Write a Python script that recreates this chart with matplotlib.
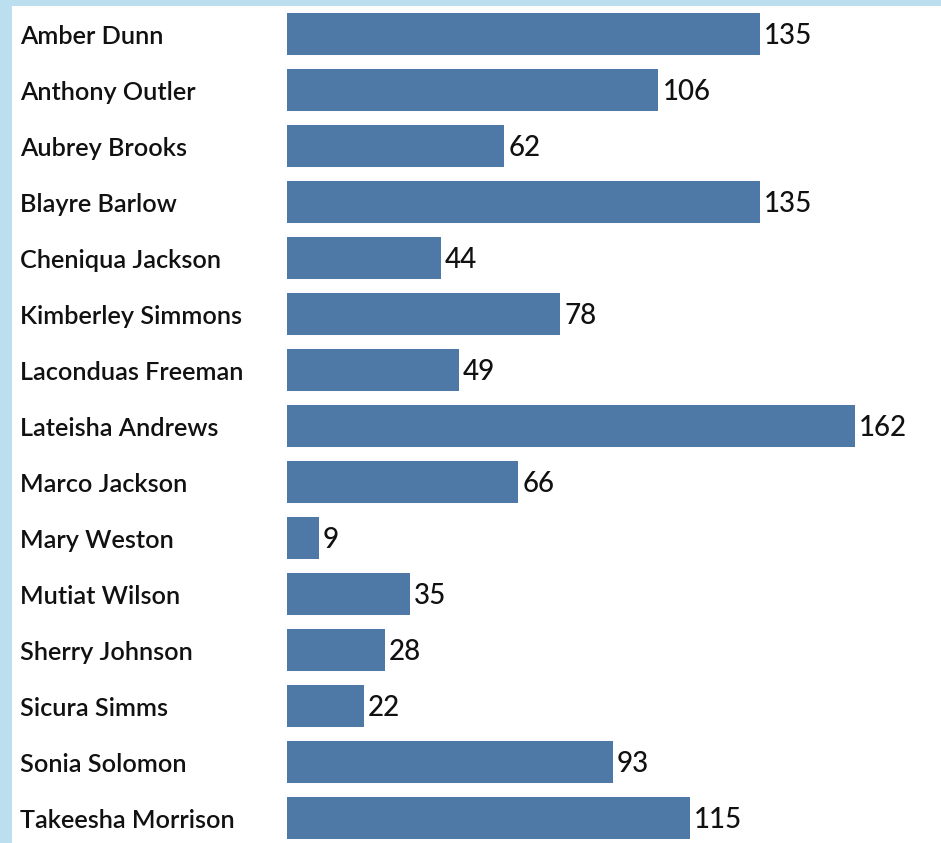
import matplotlib.pyplot as plt
from matplotlib.patches import Rectangle
from matplotlib.transforms import blended_transform_factory, offset_copy

names = ["Amber Dunn", "Anthony Outler", "Aubrey Brooks", "Blayre Barlow",
         "Cheniqua Jackson", "Kimberley Simmons", "Laconduas Freeman",
         "Lateisha Andrews", "Marco Jackson", "Mary Weston", "Mutiat Wilson",
         "Sherry Johnson", "Sicura Simms", "Sonia Solomon", "Takeesha Morrison"]
values = [135, 106, 62, 135, 44, 78, 49, 162, 66, 9, 35, 28, 22, 93, 115]

W, H = 941, 843
fig = plt.figure(figsize=(W / 100, H / 100), dpi=100)
fig.patch.set_facecolor('#bcdff0')
# white panel inside the light blue frame
fig.patches.append(Rectangle((12 / W, 0), 1, (H - 6) / H, transform=fig.transFigure,
                             facecolor='white', edgecolor='none', zorder=-10))

ax = fig.add_axes([287 / W, 0, (W - 287) / W, (H - 6) / H])
ax.set_facecolor('none')
ax.barh(range(len(names)), values, height=0.75, color='#4e79a7')
ax.set_xlim(0, (W - 287) / 3.504)
ax.set_ylim(14.5 - 3 / 56, -0.5)
ax.axis('off')

font = 'Lato'
tr = offset_copy(blended_transform_factory(fig.transFigure, ax.transData),
                 fig=fig, x=0, y=-2, units='dots')
val_tr = offset_copy(ax.transData, fig=fig, x=4, y=-2, units='dots')
for i, (n, v) in enumerate(zip(names, values)):
    ax.text(20 / W, i, n, transform=tr, ha='left', va='center',
            fontsize=18.2, family=font, weight='semibold', color='#111111')
    ax.text(v, i, str(v), ha='left', va='center', fontsize=20, family=font,
            weight='medium', color='#111111', transform=val_tr)

fig.savefig('out.png', dpi=100)
